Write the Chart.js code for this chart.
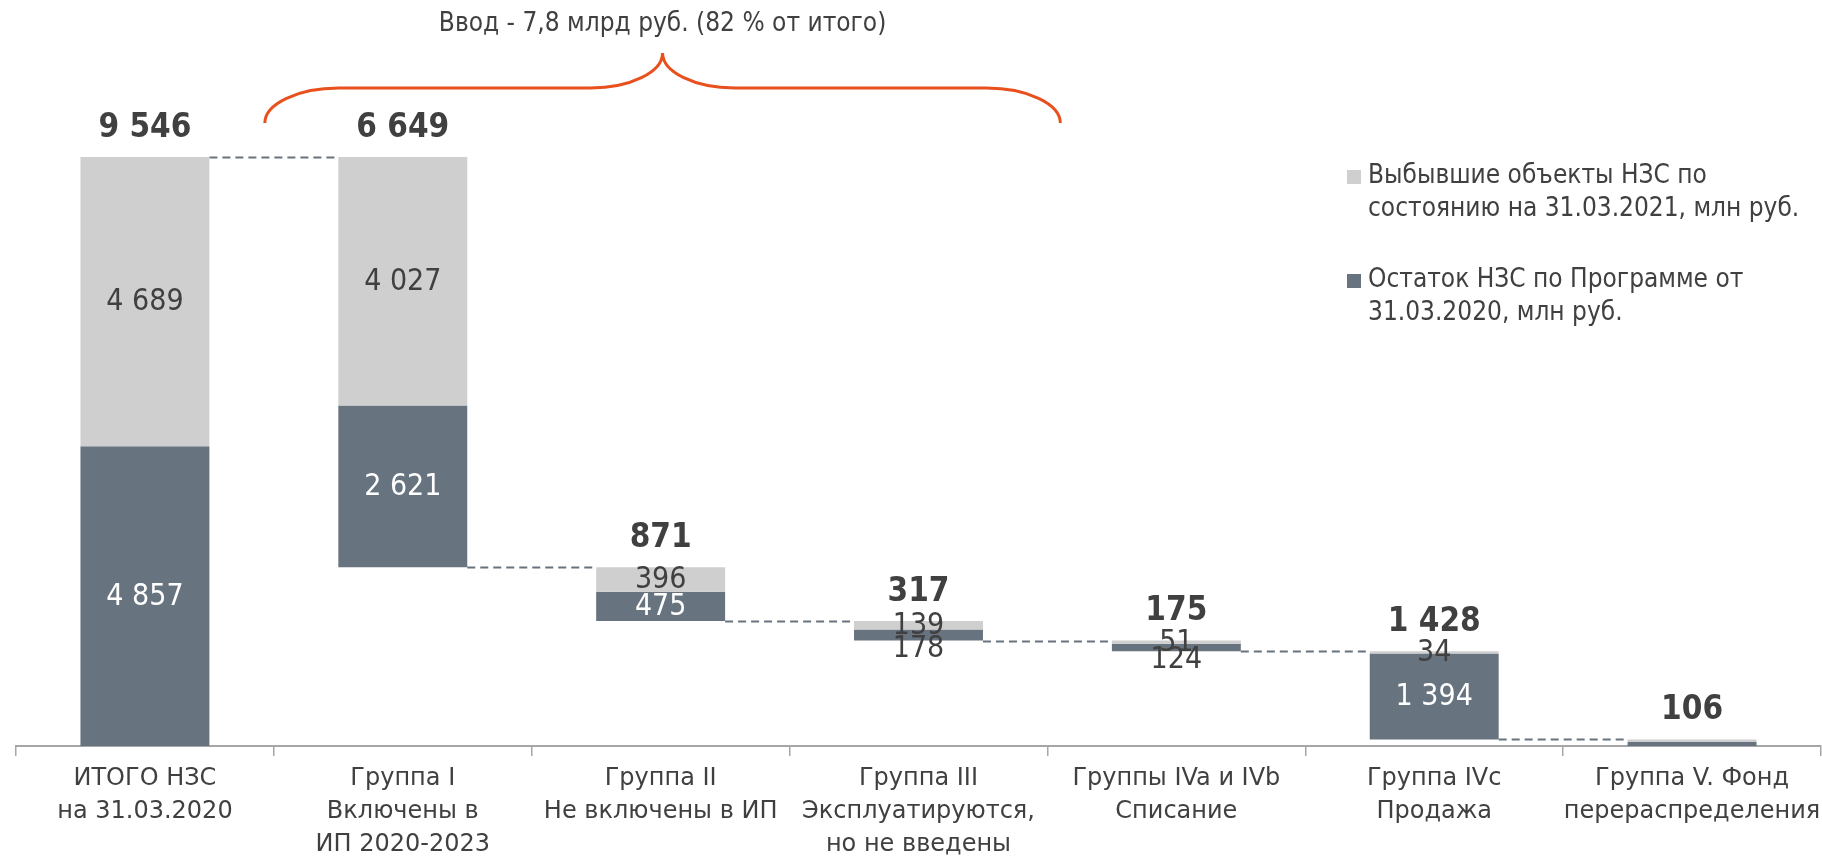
<!DOCTYPE html>
<html><head><meta charset="utf-8">
<script src="https://cdn.jsdelivr.net/npm/chart.js@4.4.1/dist/chart.umd.min.js"></script>
<style>html,body{margin:0;padding:0;background:#fff;} #wrap{position:relative;width:1822px;height:861px;}</style>
</head><body><div id="wrap"><canvas id="c"></canvas></div>
<script>
// ---- data ----
const categories = [
  ["ИТОГО НЗС","на 31.03.2020"],
  ["Группа I","Включены в","ИП 2020-2023"],
  ["Группа II","Не включены в ИП"],
  ["Группа III","Эксплуатируются,","но не введены"],
  ["Группы IVa и IVb","Списание"],
  ["Группа IVc","Продажа"],
  ["Группа V. Фонд","перераспределения"]
];
const totals    = [9546, 6649, 871, 317, 175, 1428, 106];
const remaining = [4857, 2621, 475, 178, 124, 1394, 65];
const disposed  = [4689, 4027, 396, 139, 51, 34, 42];
const showParts = [true, true, true, true, true, true, false];
const legendLines = [
  ["Выбывшие объекты НЗС по","состоянию на 31.03.2021, млн руб."],
  ["Остаток НЗС по Программе от","31.03.2020, млн руб."]
];
const braceText = "Ввод - 7,8 млрд руб. (82 % от итого)";

// ---- build floating ranges ----
const darkData = [], lightData = [], tops = [];
let level = totals[0];
totals.forEach((t, i) => {
  let bottom, top;
  if (i === 0) { bottom = 0; top = t; }
  else { top = level; bottom = level - t; level = bottom; }
  tops.push(top);
  darkData.push([bottom, bottom + remaining[i]]);
  lightData.push([bottom + remaining[i], top]);
});

const FONT = '"DejaVu Sans Condensed", "DejaVu Sans", sans-serif';
const FONT_W = '"DejaVu Sans", sans-serif';
const TXT = '#404040';
const DARK = '#67737f';
const LIGHT = '#d0cfd0';
const ORANGE = '#e8501e';
const fmt = v => String(v).replace(/\B(?=(\d{3})+(?!\d))/g, ' ');

const overlay = {
  id: 'overlay',
  beforeDatasetsDraw(chart) {
    const ctx = chart.ctx, ys = chart.scales.y;
    const meta = chart.getDatasetMeta(1);
    ctx.save();
    ctx.strokeStyle = DARK; ctx.lineWidth = 2; ctx.setLineDash([8, 5]);
    for (let i = 0; i < totals.length - 1; i++) {
      const a = meta.data[i], b = meta.data[i + 1];
      const yy = Math.round(ys.getPixelForValue(tops[i + 1])) + 0.5;
      ctx.beginPath();
      ctx.moveTo(a.x + a.width / 2, yy);
      ctx.lineTo(b.x - b.width / 2, yy);
      ctx.stroke();
    }
    ctx.restore();
  },
  afterDatasetsDraw(chart) {
    const ctx = chart.ctx, xs = chart.scales.x, ys = chart.scales.y;
    const dMeta = chart.getDatasetMeta(1);
    ctx.save();
    ctx.textAlign = 'center'; ctx.textBaseline = 'middle';
    totals.forEach((t, i) => {
      const cx = dMeta.data[i].x;
      const topPx = ys.getPixelForValue(tops[i]);
      ctx.font = 'bold 33px ' + FONT; ctx.fillStyle = TXT;
      ctx.fillText(fmt(t), cx, topPx - 29);
      if (!showParts[i]) return;
      ctx.font = '30px ' + FONT;
      const l0 = ys.getPixelForValue(lightData[i][0]), l1 = ys.getPixelForValue(lightData[i][1]);
      ctx.fillStyle = TXT;
      ctx.fillText(fmt(disposed[i]), cx, (l0 + l1) / 2 + 1);
      const d0 = ys.getPixelForValue(darkData[i][0]), d1 = ys.getPixelForValue(darkData[i][1]);
      if (d0 - d1 >= 25) {
        ctx.fillStyle = '#ffffff';
        ctx.fillText(fmt(remaining[i]), cx, (d0 + d1) / 2 + 1);
      } else {
        ctx.fillStyle = TXT;
        ctx.fillText(fmt(remaining[i]), cx, d0 + 9);
      }
    });
    // brace
    const cw = xs.getPixelForValue(1) - xs.getPixelForValue(0);
    const xL = xs.getPixelForValue(0) + 0.465 * cw;
    const xR = xs.getPixelForValue(3) + 0.55 * cw;
    const xT = (xL + xR) / 2;
    const yEnd = 123, yMid = 88, yTip = 53, k = 0.55, w1 = 74, w2 = 72;
    const h1 = yEnd - yMid, h2 = yMid - yTip;
    ctx.strokeStyle = ORANGE; ctx.lineWidth = 3;
    ctx.beginPath();
    ctx.moveTo(xL, yEnd);
    ctx.bezierCurveTo(xL, yEnd - k * h1, xL + w1 - k * w1, yMid, xL + w1, yMid);
    ctx.lineTo(xT - w2, yMid);
    ctx.bezierCurveTo(xT - w2 + k * w2, yMid, xT, yTip + k * h2, xT, yTip);
    ctx.bezierCurveTo(xT, yTip + k * h2, xT + w2 - k * w2, yMid, xT + w2, yMid);
    ctx.lineTo(xR - w1, yMid);
    ctx.bezierCurveTo(xR - w1 + k * w1, yMid, xR, yEnd - k * h1, xR, yEnd);
    ctx.stroke();
    ctx.font = '26px ' + FONT; ctx.fillStyle = TXT;
    ctx.fillText(braceText, xT, 24);
    // legend
    const lx = 1347, colors = [LIGHT, DARK], starts = [183, 287];
    ctx.textAlign = 'left'; ctx.textBaseline = 'alphabetic';
    ctx.font = '26px ' + FONT;
    legendLines.forEach((lines, kk) => {
      ctx.fillStyle = colors[kk];
      ctx.fillRect(lx, starts[kk] - 13, 14, 14);
      ctx.fillStyle = TXT;
      lines.forEach((ln, j) => ctx.fillText(ln, lx + 21, starts[kk] + j * 33));
    });
    ctx.restore();
  }
};

Chart.defaults.font.family = FONT;
new Chart(document.getElementById('c'), {
  type: 'bar',
  data: {
    labels: categories,
    datasets: [
      { label: legendLines[0].join(' '), data: lightData, backgroundColor: LIGHT, grouped: false, borderWidth: 0, barPercentage: 0.5, categoryPercentage: 1 },
      { label: legendLines[1].join(' '), data: darkData, backgroundColor: DARK, grouped: false, borderWidth: 0, barPercentage: 0.5, categoryPercentage: 1 }
    ]
  },
  options: {
    responsive: true, maintainAspectRatio: false, animation: false,
    layout: { padding: { left: 16, right: 1, top: 0, bottom: 0 } },
    plugins: { legend: { display: false }, tooltip: { enabled: false } },
    scales: {
      x: {
        grid: { drawOnChartArea: false, drawTicks: true, tickLength: 10, offset: true, color: '#a6a6a6', lineWidth: 1.5 },
        border: { display: true, color: '#a6a6a6', width: 2 },
        ticks: { color: TXT, font: { family: FONT_W, size: 24, lineHeight: 1.375 }, padding: 6, maxRotation: 0, minRotation: 0, autoSkip: false },
        afterFit(s) { s.height = 115; s.paddingLeft = 0; s.paddingRight = 0; }
      },
      y: { display: false, min: 0, max: 12090 }
    }
  },
  plugins: [overlay]
});
</script></body></html>
